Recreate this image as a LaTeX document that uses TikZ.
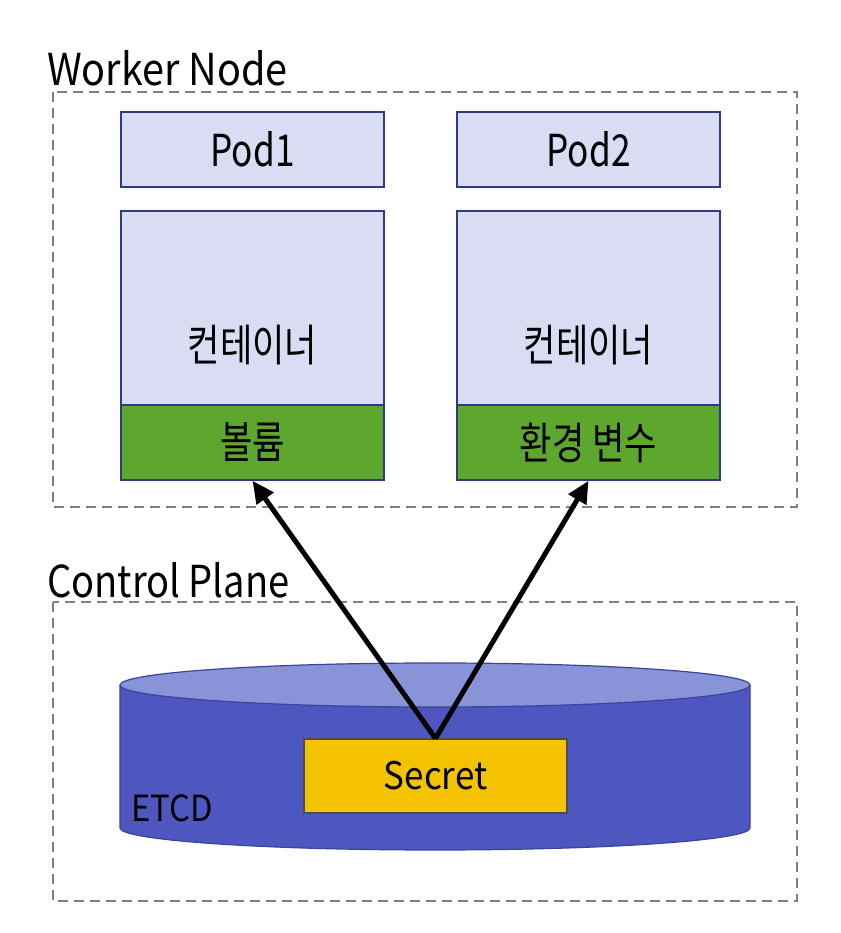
\documentclass[tikz,border=0pt]{standalone}
\usepackage{fontspec}
\usepackage{graphicx}
\setmainfont{Noto Sans CJK KR}
\usetikzlibrary{arrows.meta}
\definecolor{podfill}{HTML}{D9DCF2}
\definecolor{podline}{HTML}{2E3A87}
\definecolor{volgreen}{HTML}{5EA72E}
\definecolor{cylbody}{HTML}{4E57BF}
\definecolor{cyltop}{HTML}{8893D8}
\definecolor{cylline}{HTML}{3A43A0}
\definecolor{secretfill}{HTML}{F3C300}
\definecolor{dashgray}{HTML}{808080}
\newcommand{\sqz}[2]{\scalebox{#1}[1]{#2}}
\tikzset{
  region/.style={draw=dashgray, line width=1.8pt, dash pattern=on 10pt off 6pt},
  podbox/.style={draw=podline, line width=1.5pt, fill=podfill, minimum width=263pt, inner sep=0pt, font=\fontsize{44}{48}\selectfont},
  volbox/.style={podbox, fill=volgreen, minimum height=75pt},
  boxlabel/.style={inner sep=0pt, font=\fontsize{44}{48}\selectfont},
  title/.style={anchor=west, inner sep=0pt, font=\fontsize{44}{48}\selectfont},
  link/.style={line width=5pt, -{Triangle[length=22pt, width=20pt]}},
}
\begin{document}
\begin{tikzpicture}[x=1pt,y=1pt]
\useasboundingbox (0,0) rectangle (840,933);
% Worker node region
\node[title] (wtitle) at (47,865) {\sqz{0.9}{Worker Node}};
\draw[region] (53,841) rectangle (797,426);
\node[podbox, minimum height=75pt] (pod1) at (252.5,783.5) {\sqz{0.8}{Pod1}};
\node[podbox, minimum height=269pt] (cont1) at (252.5,587.5) {};
\node[volbox] (vol1) at (252.5,490.5) {\sqz{0.8}{볼륨}};
\node[boxlabel] (cont1label) at (cont1.center) {\sqz{0.8}{컨테이너}};
\node[podbox, minimum height=75pt] (pod2) at (588.5,783.5) {\sqz{0.8}{Pod2}};
\node[podbox, minimum height=269pt] (cont2) at (588.5,587.5) {};
\node[volbox] (env2) at (588.5,490.5) {\sqz{0.8}{환경 변수}};
\node[boxlabel] (cont2label) at (cont2.center) {\sqz{0.8}{컨테이너}};
% Control plane region
\node[title] (ctitle) at (47,353) {\sqz{0.865}{Control Plane}};
\draw[region] (53,331) rectangle (797,32);
% ETCD cylinder
\fill[cylbody] (120,248) -- (120,105) arc[start angle=180, end angle=360, x radius=315, y radius=22] -- (750,248) -- cycle;
\draw[cylline, line width=1.2pt] (120,248) -- (120,105) arc[start angle=180, end angle=360, x radius=315, y radius=22] -- (750,248);
\draw[cylline, line width=1.2pt, fill=cyltop] (435,248) ellipse[x radius=315, y radius=22];
\node[anchor=west, inner sep=0pt, font=\fontsize{36}{40}\selectfont] (etcd) at (131,125) {\sqz{0.91}{ETCD}};
\node[draw=black!70, line width=1.2pt, fill=secretfill, minimum width=263pt, minimum height=74pt, inner sep=0pt, font=\fontsize{38}{42}\selectfont] (secret) at (435.5,157) {\sqz{0.92}{Secret}};
% arrows
\draw[link] (secret.north) -- (vol1.south);
\draw[link] (secret.north) -- (env2.south);
\end{tikzpicture}
\end{document}
